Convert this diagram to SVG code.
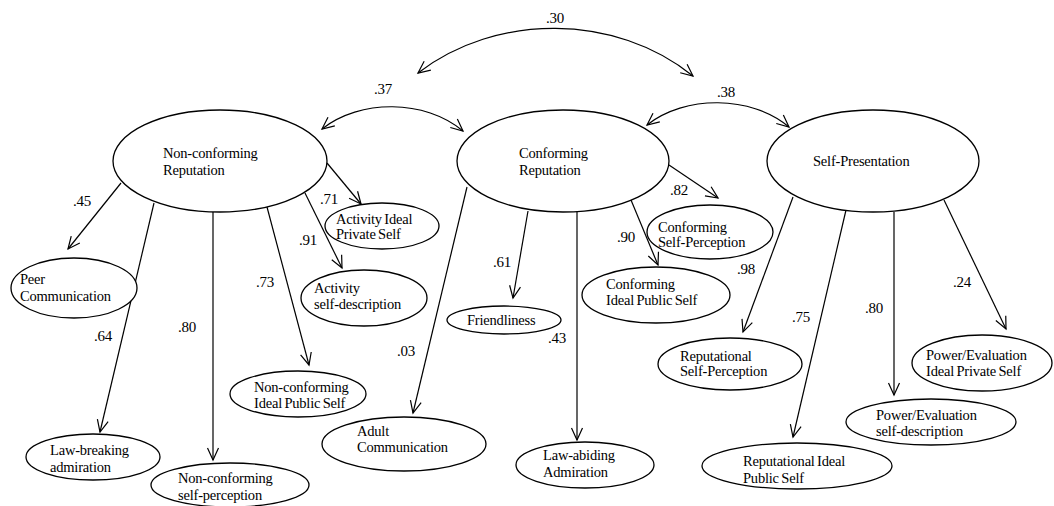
<svg xmlns="http://www.w3.org/2000/svg" width="1054" height="506" viewBox="0 0 1054 506">
<style>
  .bg{fill:#fff}
  ellipse{fill:#fff;stroke:#000;stroke-width:1.3}
  text{font-family:'Liberation Serif','DejaVu Serif',serif;font-size:14.5px;fill:#000;letter-spacing:-0.2px;word-spacing:-1px}
  .lbl{font-size:15px;text-anchor:middle}
  .c{fill:none;stroke:#000;stroke-width:1.2}
</style>
<defs>
  <marker id="ah" markerUnits="userSpaceOnUse" markerWidth="16" markerHeight="16" viewBox="-14 -8 16 16" refX="0" refY="0" orient="auto-start-reverse">
    <path d="M-12,-5.5 L0,0 L-12,5.5" fill="none" stroke="#000" stroke-width="1.2"/>
  </marker>
</defs>
<rect class="bg" x="0" y="0" width="1054" height="506"/>

<g id="connectors">
  <path class="c" d="M418,73 C496,13 615,13 693,76" marker-start="url(#ah)" marker-end="url(#ah)"/>
  <path class="c" d="M322,129 C360,99 425,99 463,131" marker-start="url(#ah)" marker-end="url(#ah)"/>
  <path class="c" d="M647,125 C685,95 751,95 789,127" marker-start="url(#ah)" marker-end="url(#ah)"/>
  <path class="c" d="M121,183 L68,249" marker-end="url(#ah)"/>
  <path class="c" d="M154,203 L100,432" marker-end="url(#ah)"/>
  <path class="c" d="M213,212 L213,460" marker-end="url(#ah)"/>
  <path class="c" d="M267,207 L309,365" marker-end="url(#ah)"/>
  <path class="c" d="M305,193 L342,268" marker-end="url(#ah)"/>
  <path class="c" d="M327,163 L361,204" marker-end="url(#ah)"/>
  <path class="c" d="M467,187 L413,413" marker-end="url(#ah)"/>
  <path class="c" d="M528,211 L513,298" marker-end="url(#ah)"/>
  <path class="c" d="M577,212 L577,440" marker-end="url(#ah)"/>
  <path class="c" d="M631,200 L658,265" marker-end="url(#ah)"/>
  <path class="c" d="M669,165 L718,198" marker-end="url(#ah)"/>
  <path class="c" d="M793,197 L743,332" marker-end="url(#ah)"/>
  <path class="c" d="M846,210 L793,437" marker-end="url(#ah)"/>
  <path class="c" d="M894,212 L894,395" marker-end="url(#ah)"/>
  <path class="c" d="M944,200 L1006,329" marker-end="url(#ah)"/>
</g>

<g id="labels">
  <text class="lbl" x="555" y="23">.30</text>
  <text class="lbl" x="383" y="94">.37</text>
  <text class="lbl" x="726" y="97">.38</text>
  <text class="lbl" x="82" y="206">.45</text>
  <text class="lbl" x="103" y="341">.64</text>
  <text class="lbl" x="187" y="332">.80</text>
  <text class="lbl" x="265" y="287">.73</text>
  <text class="lbl" x="308" y="245">.91</text>
  <text class="lbl" x="329" y="204">.71</text>
  <text class="lbl" x="406" y="356">.03</text>
  <text class="lbl" x="502" y="267">.61</text>
  <text class="lbl" x="557" y="343">.43</text>
  <text class="lbl" x="626" y="242">.90</text>
  <text class="lbl" x="679" y="195">.82</text>
  <text class="lbl" x="746" y="274">.98</text>
  <text class="lbl" x="801" y="322">.75</text>
  <text class="lbl" x="874" y="313">.80</text>
  <text class="lbl" x="962" y="287">.24</text>
</g>

<g id="nonconforming-reputation">
  <ellipse cx="220" cy="161" rx="107" ry="51"/>
  <text x="163" y="158">Non-conforming</text>
  <text x="163" y="175">Reputation</text>
</g>
<g id="conforming-reputation">
  <ellipse cx="563" cy="161" rx="106" ry="51"/>
  <text x="519" y="158">Conforming</text>
  <text x="519" y="175">Reputation</text>
</g>
<g id="self-presentation">
  <ellipse cx="873" cy="161" rx="106" ry="51"/>
  <text x="813" y="166">Self-Presentation</text>
</g>

<g id="peer-communication">
  <ellipse cx="74" cy="288" rx="63" ry="30"/>
  <text x="20" y="284">Peer</text>
  <text x="20" y="301">Communication</text>
</g>
<g id="law-breaking-admiration">
  <ellipse cx="93" cy="457" rx="67" ry="23"/>
  <text x="50" y="455">Law-breaking</text>
  <text x="50" y="472">admiration</text>
</g>
<g id="nonconforming-self-perception">
  <ellipse cx="230" cy="485" rx="79" ry="22"/>
  <text x="178" y="483">Non-conforming</text>
  <text x="178" y="500">self-perception</text>
</g>
<g id="nonconforming-ideal-public-self">
  <ellipse cx="298" cy="394" rx="68" ry="23"/>
  <text x="254" y="392">Non-conforming</text>
  <text x="254" y="408">Ideal Public Self</text>
</g>
<g id="activity-self-description">
  <ellipse cx="364" cy="298" rx="63" ry="28"/>
  <text x="314" y="293">Activity</text>
  <text x="314" y="309">self-description</text>
</g>
<g id="activity-ideal-private-self">
  <ellipse cx="382" cy="226" rx="57" ry="23"/>
  <text x="336" y="224">Activity Ideal</text>
  <text x="336" y="239">Private Self</text>
</g>

<g id="adult-communication">
  <ellipse cx="404" cy="444" rx="82" ry="27"/>
  <text x="357" y="436">Adult</text>
  <text x="357" y="452">Communication</text>
</g>
<g id="friendliness">
  <ellipse cx="504" cy="320" rx="57" ry="14"/>
  <text x="467" y="325">Friendliness</text>
</g>
<g id="law-abiding-admiration">
  <ellipse cx="585" cy="465" rx="69" ry="23"/>
  <text x="543" y="460">Law-abiding</text>
  <text x="543" y="477">Admiration</text>
</g>
<g id="conforming-ideal-public-self">
  <ellipse cx="656" cy="295" rx="74" ry="28"/>
  <text x="606" y="289">Conforming</text>
  <text x="606" y="305">Ideal Public Self</text>
</g>
<g id="conforming-self-perception">
  <ellipse cx="710" cy="232" rx="63" ry="27"/>
  <text x="658" y="232">Conforming</text>
  <text x="658" y="247">Self-Perception</text>
</g>

<g id="reputational-self-perception">
  <ellipse cx="730" cy="364" rx="72" ry="26"/>
  <text x="680" y="361">Reputational</text>
  <text x="680" y="376">Self-Perception</text>
</g>
<g id="reputational-ideal-public-self">
  <ellipse cx="797" cy="466" rx="95" ry="23"/>
  <text x="743" y="466">Reputational Ideal</text>
  <text x="743" y="483">Public Self</text>
</g>
<g id="power-evaluation-self-description">
  <ellipse cx="931" cy="422" rx="85" ry="23"/>
  <text x="876" y="420">Power/Evaluation</text>
  <text x="876" y="436">self-description</text>
</g>
<g id="power-evaluation-ideal-private-self">
  <ellipse cx="982" cy="363" rx="70" ry="28"/>
  <text x="926" y="360">Power/Evaluation</text>
  <text x="926" y="376">Ideal Private Self</text>
</g>
</svg>
